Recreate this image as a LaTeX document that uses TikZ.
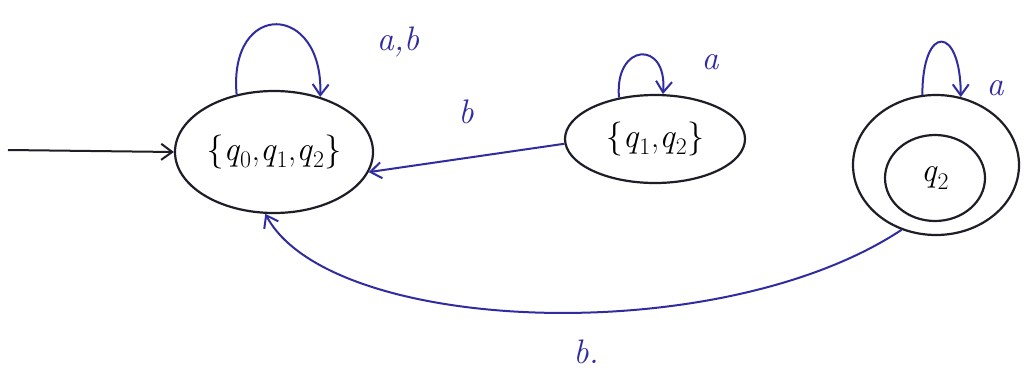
\documentclass[tikz,border=0pt]{standalone}
\usetikzlibrary{shapes.geometric,arrows.meta}
\definecolor{ink}{RGB}{48,44,160}
\definecolor{pen}{RGB}{30,30,40}
\newcommand\qsub[1]{\textit{q}\textsubscript{#1}}
\begin{document}
\begin{tikzpicture}[x=1pt,y=-1pt,
  state/.style={draw=pen,line width=2.2pt,ellipse,inner sep=0pt,font=\fontsize{34}{38}\selectfont},
  edge/.style={draw=ink,line width=2pt,-{Straight Barb[length=11pt,width=16pt]}},
  lbl/.style={text=ink,font=\fontsize{34}{38}\selectfont\itshape}]
\useasboundingbox (0,0) rectangle (1032,372);
\fill[white] (0,0) rectangle (1032,372);
% states
\node[state,minimum width=198pt,minimum height=122pt] (A) at (274,152) {\{\qsub{0},\qsub{1},\qsub{2}\}};
\node[state,minimum width=180pt,minimum height=88pt] (B) at (655,139) {\{\qsub{1},\qsub{2}\}};
\node[state,minimum width=166pt,minimum height=140pt] (C) at (936,165) {};
\node[state,minimum width=100pt,minimum height=86pt] (Cin) at (935,178) {\qsub{2}};
\coordinate (start) at (8,150);
% start arrow
\draw[edge,draw=pen] (start) -- (A.west);
% self loops
\draw[edge] (A.123) .. controls +(-95:95) and +(-88:95) .. (A.50);
\node[lbl] (lA) at (398,42) {a,b};
\draw[edge] (B.131) .. controls +(-95:55) and +(-85:55) .. (B.80);
\node[lbl] (lB) at (710,62) {a};
\draw[edge] (C.101) .. controls +(-90:72) and +(-90:72) .. (C.70);
\node[lbl] (lC) at (995,88) {a};
% transitions
\draw[edge] (B.183) -- (A.-12);
\node[lbl] (lBA) at (466,112) {b};
\draw[edge] (C.242) .. controls (720,350) and (330,335) .. (A.262);
\node[lbl] (lCA) at (586,352) {b.};
\end{tikzpicture}
\end{document}
